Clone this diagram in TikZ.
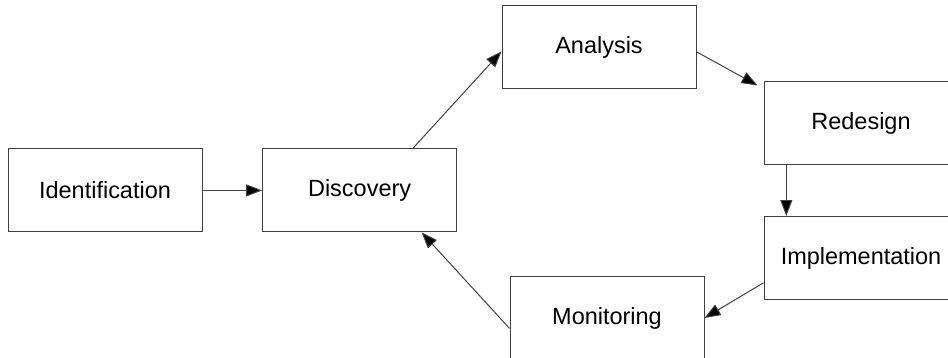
\documentclass[tikz,border=0pt]{standalone}
\usepackage{fontspec}
\setmainfont{Liberation Sans}
\usetikzlibrary{arrows.meta}
\begin{document}
\begin{tikzpicture}[scale=1,auto=center,
		stage/.style={draw=black!75,line width=0.7pt,minimum width=4.85cm,minimum height=2.075cm,inner sep=0pt,font=\fontsize{16.7}{20}\selectfont},
		flow/.style={draw=black!75,line width=0.7pt,-{Triangle[length=0.4cm,width=0.3cm,fill=black]}}]
			\useasboundingbox (0,0) rectangle (23.7,8.95);
			\node[stage] (ident) at (2.625,4.19) {Identification};
			\node[stage] (disc) at (8.99,4.19) {Discovery};
			\node[stage] (anal) at (14.975,7.775) {Analysis};
			\node[stage] (redes) at (21.525,5.865) {Redesign};
			\node[stage] (impl) at (21.525,2.5) {Implementation};
			\node[stage] (monit) at (15.175,1.0) {Monitoring};
			\draw[flow] (ident.east) -- (disc.west);
			\draw[flow] ([xshift=1.33cm]disc.north) -- ([yshift=-0.11cm]anal.west);
			\draw[flow] ([yshift=-0.12cm]anal.east) -- ([shift={(-0.15cm,-0.1cm)}]redes.north west);
			\draw[flow] ([xshift=0.57cm]redes.south west) -- ([xshift=0.57cm]impl.north west);
			\draw[flow] ([yshift=-0.62cm]impl.west) -- (monit.east);
			\draw[flow] ([yshift=-0.26cm]monit.west) -- ([xshift=1.55cm]disc.south);
		\end{tikzpicture}
\end{document}
